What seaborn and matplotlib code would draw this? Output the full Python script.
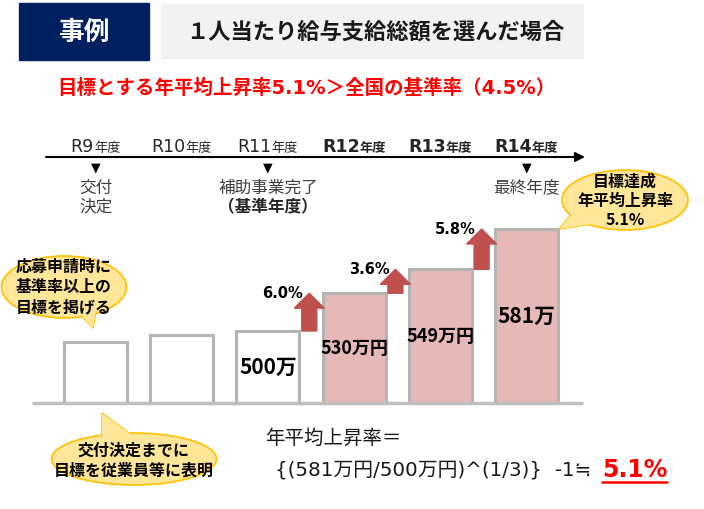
import matplotlib
matplotlib.use("Agg")
import matplotlib.pyplot as plt
import matplotlib.transforms as mtransforms
from matplotlib.patches import Rectangle, Ellipse, Polygon, FancyArrow
import pandas as pd
import seaborn as sns

sns.set_theme(style="white")
plt.rcParams["font.family"] = ["Noto Sans CJK JP", "DejaVu Sans"]
LATIN = ["DejaVu Sans", "Noto Sans CJK JP"]  # wide latin, CJK fallback

# data (万円). R9/R10 have no label
years = ["R9", "R10", "R11", "R12", "R13", "R14"]
salary = [491, 497, 500, 530, 549, 581]
bar_labels = ["", "", "500万", "530万円", "549万円", "581万"]
BASE = 2  # R11 = 基準年度
milestones = {0: ["交付", "決定"], 2: ["補助事業完了", "（基準年度）"], 5: ["最終年度"]}

W, H = 704, 509
fig = plt.figure(figsize=(W / 100, H / 100), dpi=100)

# bar axes: 86 px per category, 1.259 px per 万円, cut at 442.8
PX = 1.259
Y0 = 442.8
ax = fig.add_axes([52.5 / W, (H - 403) / H, 517 / W, 290 / H])
df = pd.DataFrame({"year": years, "salary": salary})
colors = ["white" if i <= BASE else "#e6b8b7" for i in range(len(years))]
sns.barplot(data=df, x="year", y="salary", hue="year", palette=colors,
            legend=False, saturation=1, width=63 / 86,
            edgecolor="#b4b4b4", linewidth=2.2, ax=ax)
ax.set_xlim(-0.5, len(years) - 0.5)
ax.set_ylim(Y0, Y0 + 290 / PX)
ax.axis("off")

# overlay in pixel coords (y from top)
ov = fig.add_axes([0, 0, 1, 1], zorder=3)
ov.set_xlim(0, W)
ov.set_ylim(H, 0)
ov.axis("off")
ov.patch.set_alpha(0)
trans = mtransforms.blended_transform_factory(ax.transData, ov.transData)

# bar labels
for i, (v, lab) in enumerate(zip(salary, bar_labels)):
    if lab:
        ax.text(i, (Y0 + v) / 2, lab, ha="center", va="center",
                fontsize=15 if len(lab) <= 4 else 13, fontweight="bold",
                color="black")

# growth arrows + labels
for i in range(BASE, len(salary) - 1):
    g = salary[i + 1] / salary[i] - 1
    ax.add_patch(FancyArrow(i + 0.48, salary[i], 0, salary[i + 1] - salary[i],
                            width=15 / 86, head_width=30 / 86,
                            head_length=15 / PX, length_includes_head=True,
                            color="#c0504d", clip_on=False))
    ax.annotate(f"{g * 100:.1f}%", (i + 0.48, salary[i + 1]),
                xytext=(-6, 0), textcoords="offset pixels",
                ha="right", va="center", fontsize=10.5, fontweight="bold",
                color="black", family=LATIN, annotation_clip=False)

# timeline
ov.annotate("", xy=(585, 157), xytext=(46, 157),
            arrowprops=dict(arrowstyle="-|>", color="black", lw=1.5,
                            mutation_scale=14, shrinkA=0, shrinkB=0))
yr_texts = []
for i, y in enumerate(years):
    w = "bold" if i > BASE else "normal"
    a = ax.annotate(y, (i, 152), xycoords=trans, xytext=(0, 0),
                    textcoords="offset pixels", ha="right", va="baseline",
                    fontsize=12.5, fontweight=w, color="#262626", family=LATIN)
    b = ax.annotate("年度", (i, 152), xycoords=trans, xytext=(0, 0),
                    textcoords="offset pixels", ha="left", va="baseline",
                    fontsize=9.5, fontweight=w, color="#262626")
    yr_texts.append((a, b))

for i, lines in milestones.items():
    ax.text(i, 168, "▼", transform=trans, ha="center", va="center",
            fontsize=9, color="black", family=["DejaVu Sans"])
    for k, s in enumerate(lines):
        bold = s.startswith("（")
        ax.text(i, 188 + 19 * k, s, transform=trans, ha="center", va="center",
                fontsize=12, fontweight="bold" if bold else "normal",
                color="#262626" if bold else "#404040")

# baseline
ov.plot([32, 583], [403, 403], color="#bfbfbf", lw=2.5, solid_capstyle="butt")


def bubble(cx, cy, w, h, tail, lines, pitch, ty=None):
    kw = dict(facecolor="#ffe699", edgecolor="#ffc000", lw=1.2)
    ov.add_patch(Polygon(tail, closed=True, zorder=1, **kw))
    ov.add_patch(Ellipse((cx, cy), w, h, zorder=2, **kw))
    ov.add_patch(Polygon(tail, closed=True, facecolor="#ffe699",
                         edgecolor="none", zorder=3))
    ty = cy if ty is None else ty
    y = ty - pitch * (len(lines) - 1) / 2
    for k, s in enumerate(lines):
        ov.text(cx, y + k * pitch, s, ha="center", va="center", fontsize=11.5,
                fontweight="bold", color="black", zorder=4)


bubble(64, 287, 125, 62, [(78, 312), (96, 310), (93, 328)],
       ["応募申請時に", "基準率以上の", "目標を掲げる"], 20)
bubble(625, 200, 126, 60, [(575, 210), (592, 224), (559, 229)],
       ["目標達成", "年平均上昇率", "5.1%"], 19, ty=201)
bubble(134, 459, 165, 52, [(102, 440), (102, 413), (133, 436)],
       ["交付決定までに", "目標を従業員等に表明"], 20, ty=461)

# header
ov.add_patch(Rectangle((19, 3), 130, 57, color="#002060"))
ov.add_patch(Rectangle((161, 4), 422, 54, color="#f2f2f2"))
ov.text(84, 32, "事例", ha="center", va="center", fontsize=18.5,
        fontweight="bold", color="white")
ov.text(375, 32, "１人当たり給与支給総額を選んだ場合", ha="center", va="center",
        fontsize=16, fontweight="bold", color="#1a1a1a")
ov.text(306, 88, "目標とする年平均上昇率5.1%＞全国の基準率（4.5%）",
        ha="center", va="center", fontsize=14, fontweight="bold",
        color="#ff0000", family=LATIN)

# formula
ov.text(265, 438, "年平均上昇率＝", ha="left", va="center", fontsize=14,
        color="#1a1a1a")
ov.text(275, 470, "{(581万円/500万円)^(1/3)}  -1≒", ha="left", va="center",
        fontsize=14.3, color="#1a1a1a", family=LATIN)
res = ov.text(602, 470, "5.1%", ha="left", va="center", fontsize=17,
              fontweight="bold", color="#ff0000", family=LATIN)

# center year labels and underline the result
fig.canvas.draw()
r = fig.canvas.get_renderer()
for a, b in yr_texts:
    shift = (a.get_window_extent(r).width - b.get_window_extent(r).width) / 2
    a.set_position((shift, 0))
    b.set_position((shift, 0))
bb = res.get_window_extent(r)
x0, _ = ov.transData.inverted().transform((bb.x0, 0))
x1, _ = ov.transData.inverted().transform((bb.x1, 0))
ov.plot([x0, x1], [482, 482], color="#ff0000", lw=1.8)

fig.savefig("out.png", dpi=100)
